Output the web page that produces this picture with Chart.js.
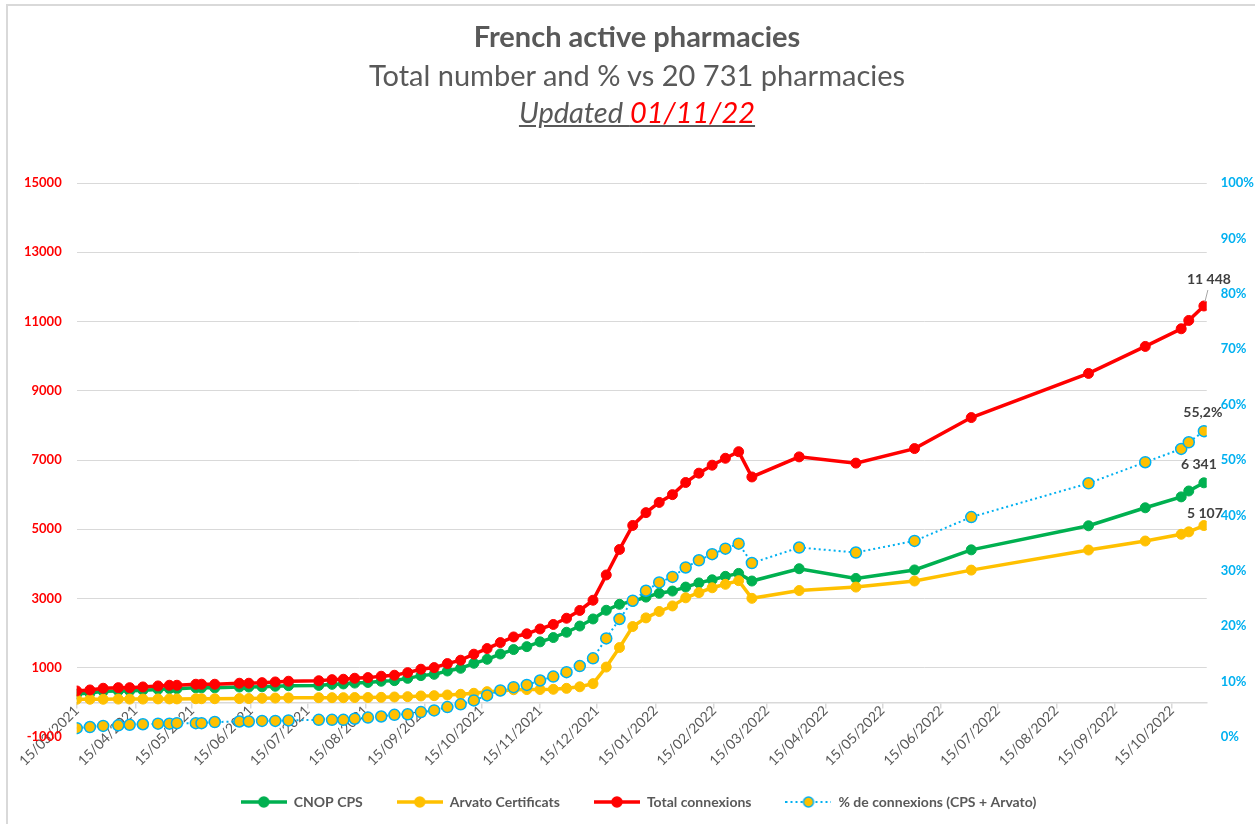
<!DOCTYPE html>
<html>
<head>
<meta charset="utf-8">
<script src="https://cdn.jsdelivr.net/npm/chart.js@4.4.0/dist/chart.umd.min.js"></script>
<style>
  html, body { margin: 0; padding: 0; background: #fff; overflow: hidden; }
  #frame { position: absolute; left: 6px; top: 4px; width: 1300px; height: 900px; border: 2px solid #d9d9d9; }
  #chart { position: absolute; left: 0; top: 0; }
  .t { position: absolute; left: 137px; width: 1000px; text-align: center; color: #595959;
       font-family: Lato, sans-serif; white-space: nowrap; line-height: 1; }
  #t1 { top: 21px; font-size: 29px; font-weight: bold; }
  #t2 { top: 60px; font-size: 29px; }
  #t3 { top: 97px; font-size: 29px; font-style: italic; text-decoration: underline; }
  #t3 span { color: #ff0000; }
</style>
</head>
<body>
<div id="frame"></div>
<canvas id="chart" width="1255" height="824"></canvas>
<div class="t" id="t1">French active pharmacies</div>
<div class="t" id="t2">Total number and % vs 20 731 pharmacies</div>
<div class="t" id="t3">Updated <span>01/11/22</span></div>
<script>
// dates of the readings
var dates = ['2021-03-15','2021-03-22','2021-03-29','2021-04-06','2021-04-12','2021-04-19','2021-04-27',
  '2021-05-03','2021-05-07','2021-05-17','2021-05-20','2021-05-27','2021-06-09','2021-06-14','2021-06-21',
  '2021-06-28','2021-07-05','2021-07-21','2021-07-28','2021-08-03','2021-08-09','2021-08-16','2021-08-23',
  '2021-08-30','2021-09-06','2021-09-13','2021-09-20','2021-09-27','2021-10-04','2021-10-11','2021-10-18',
  '2021-10-25','2021-11-01','2021-11-08','2021-11-15','2021-11-22','2021-11-29','2021-12-06','2021-12-13',
  '2021-12-20','2021-12-27','2022-01-03','2022-01-10','2022-01-17','2022-01-24','2022-01-31','2022-02-07',
  '2022-02-14','2022-02-21','2022-02-28','2022-03-07','2022-04-01','2022-05-01','2022-06-01','2022-07-01',
  '2022-09-01','2022-10-01','2022-10-20','2022-10-24','2022-11-01'];

var cnopCps = [240,269,318,330,330,351,375,395,395,419,419,419,443,443,450,465,481,489,521,532,557,575,610,
  628,694,773,810,906,984,1129,1244,1397,1525,1610,1748,1872,2025,2205,2409,2660,2832,2920,3040,3150,3215,
  3330,3450,3540,3640,3725,3505,3860,3580,3825,4405,5100,5620,5935,6105,6341];

var arvato = [90,90,90,95,95,95,100,100,100,105,105,105,110,110,120,125,130,136,136,136,140,140,145,156,165,
  185,194,214,234,263,310,330,365,370,372,378,405,450,541,1020,1583,2190,2440,2625,2785,3020,3170,3310,3410,
  3515,3005,3230,3330,3505,3820,4400,4660,4855,4925,5107];

var totalConn = [330,359,408,425,425,446,475,495,495,524,524,524,553,553,570,590,611,625,657,668,697,715,755,
  784,859,958,1004,1120,1218,1392,1554,1727,1890,1980,2120,2250,2430,2655,2950,3680,4415,5110,5480,5775,6000,
  6350,6620,6850,7050,7240,6510,7090,6910,7330,8225,9500,10280,10790,11030,11448];

var pctConn = [1.6,1.8,2.0,2.1,2.2,2.3,2.4,2.4,2.5,2.5,2.5,2.7,2.8,2.8,2.9,2.9,3.0,3.1,3.1,3.1,3.3,3.5,3.7,
  4.0,4.1,4.5,4.8,5.4,5.9,6.6,7.5,8.4,9.0,9.4,10.2,10.9,11.7,12.8,14.2,17.8,21.3,24.6,26.4,27.9,28.9,30.6,
  31.9,33.0,34.0,34.9,31.4,34.2,33.3,35.4,39.7,45.8,49.6,52.0,53.2,55.2];

var xTickLabels = ['15/03/2021','15/04/2021','15/05/2021','15/06/2021','15/07/2021','15/08/2021','15/09/2021',
  '15/10/2021','15/11/2021','15/12/2021','15/01/2022','15/02/2022','15/03/2022','15/04/2022','15/05/2022',
  '15/06/2022','15/07/2022','15/08/2022','15/09/2022','15/10/2022'];
var leftTicks = [-1000,1000,3000,5000,7000,9000,11000,13000,15000];
var rightTicks = [0,10,20,30,40,50,60,70,80,90,100];

var GREEN = '#00b050', YELLOW = '#ffc000', RED = '#ff0000', BLUE = '#00b0f0', GREY = '#595959';
var FONT = 'Lato, sans-serif';
var origin = Date.UTC(2021, 2, 15);

function dayNum(y, m, d) { return (Date.UTC(y, m - 1, d) - origin) / 864e5; }
function isoDay(s) { var p = s.split('-'); return dayNum(+p[0], +p[1], +p[2]); }
function frDay(s) { var p = s.split('/'); return dayNum(+p[2], +p[1], +p[0]); }
function pts(arr) { return arr.map(function (v, i) { return {x: isoDay(dates[i]), y: v}; }); }
function spaced(n) { return String(n).replace(/\B(?=(\d{3})+(?!\d))/g, ' '); }

var xTickValues = xTickLabels.map(frDay);

function legendIcon(color, fill, dotted) {
  var c = document.createElement('canvas');
  c.width = 46; c.height = 14;
  var g = c.getContext('2d');
  g.strokeStyle = color;
  g.lineWidth = dotted ? 2 : 3.5;
  if (dotted) g.setLineDash([2, 3]);
  g.beginPath(); g.moveTo(0, 7); g.lineTo(46, 7); g.stroke();
  g.setLineDash([]);
  g.beginPath(); g.arc(23, 7, 5, 0, Math.PI * 2);
  g.fillStyle = fill; g.fill();
  g.lineWidth = 1.5; g.strokeStyle = color; g.stroke();
  return c;
}

var endLabels = {
  id: 'endLabels',
  afterDatasetsDraw: function (chart) {
    var ctx = chart.ctx;
    ctx.save();
    ctx.font = 'bold 14px ' + FONT;
    ctx.fillStyle = '#404040';
    ctx.textAlign = 'center';
    ctx.textBaseline = 'middle';
    chart.data.datasets.forEach(function (ds, i) {
      var meta = chart.getDatasetMeta(i);
      var el = meta.data[meta.data.length - 1];
      var v = ds.data[ds.data.length - 1].y;
      var txt = ds.yAxisID === 'y1' ? String(v).replace('.', ',') + '%' : spaced(v);
      var o = ds.labelOffset;
      if (ds.leader) {
        ctx.strokeStyle = '#a6a6a6';
        ctx.lineWidth = 1;
        ctx.beginPath();
        ctx.moveTo(el.x + 1, el.y - 4);
        ctx.lineTo(el.x + 4, el.y - 16);
        ctx.stroke();
      }
      ctx.fillText(txt, el.x + o[0], el.y + o[1]);
    });
    ctx.restore();
  }
};

var legendIcons = {
  'CNOP CPS': legendIcon(GREEN, GREEN, false),
  'Arvato Certificats': legendIcon(YELLOW, YELLOW, false),
  'Total connexions': legendIcon(RED, RED, false),
  '% de connexions (CPS + Arvato)': legendIcon(BLUE, YELLOW, true)
};

function solid(label, data, color, offset, leader) {
  return {
    label: label, data: pts(data), yAxisID: 'y',
    borderColor: color, backgroundColor: color, borderWidth: 3.5,
    pointRadius: 5, pointBorderWidth: 1, pointBackgroundColor: color, pointBorderColor: color,
    labelOffset: offset, leader: leader
  };
}

new Chart(document.getElementById('chart'), {
  type: 'line',
  data: {
    datasets: [
      {
        label: '% de connexions (CPS + Arvato)', data: pts(pctConn), yAxisID: 'y1',
        borderColor: BLUE, backgroundColor: YELLOW, borderWidth: 2, borderDash: [2, 3],
        pointRadius: 5.5, pointBorderWidth: 1.5, pointBackgroundColor: YELLOW, pointBorderColor: BLUE,
        labelOffset: [-1, -19]
      },
      solid('Total connexions', totalConn, RED, [5, -27], true),
      solid('Arvato Certificats', arvato, YELLOW, [1, -12]),
      solid('CNOP CPS', cnopCps, GREEN, [-5, -18])
    ]
  },
  options: {
    responsive: false,
    animation: false,
    layout: { padding: { left: 9, right: -13, top: 183, bottom: 5 } },
    plugins: {
      tooltip: { enabled: false },
      legend: {
        position: 'bottom',
        reverse: true,
        labels: {
          usePointStyle: true, pointStyleWidth: 46, padding: 34,
          color: GREY, font: { family: FONT, size: 14, weight: 'bold' },
          generateLabels: function (chart) {
            var items = Chart.defaults.plugins.legend.labels.generateLabels(chart);
            items.forEach(function (it) { it.pointStyle = legendIcons[it.text]; });
            return items;
          }
        }
      }
    },
    scales: {
      x: {
        type: 'linear', min: 0, max: 597.5,
        position: { y: 0 },
        afterBuildTicks: function (s) { s.ticks = xTickValues.map(function (v) { return {value: v}; }); },
        ticks: {
          autoSkip: false, minRotation: 45, maxRotation: 45, padding: -5,
          color: GREY, font: { family: FONT, size: 14 },
          callback: function (v) { return xTickLabels[xTickValues.indexOf(v)]; }
        },
        grid: { drawOnChartArea: false, drawTicks: true, tickLength: 5, color: '#d9d9d9', lineWidth: 1.5 },
        border: { display: true, color: '#d9d9d9', width: 1.5 }
      },
      gap: {
        type: 'linear', position: 'bottom', display: true,
        ticks: { display: false }, grid: { display: false }, border: { display: false },
        afterFit: function (s) { s.height = 24; }
      },
      y: {
        type: 'linear', position: 'left', min: -1000, max: 15000,
        afterBuildTicks: function (s) { s.ticks = leftTicks.map(function (v) { return {value: v}; }); },
        ticks: {
          padding: 15, color: RED, font: { family: FONT, size: 13, weight: 'bold' },
          callback: function (v) { return String(v); }
        },
        grid: {
          drawTicks: false, lineWidth: 1,
          color: function (c) { return c.tick && c.tick.value === -1000 ? 'rgba(0,0,0,0)' : '#d9d9d9'; }
        },
        border: { display: false }
      },
      y1: {
        type: 'linear', position: 'right', min: 0, max: 100,
        afterBuildTicks: function (s) { s.ticks = rightTicks.map(function (v) { return {value: v}; }); },
        ticks: {
          padding: 14, color: BLUE, font: { family: FONT, size: 13, weight: 'bold' },
          callback: function (v) { return v + '%'; }
        },
        grid: { drawOnChartArea: false, drawTicks: false },
        border: { display: false }
      }
    }
  },
  plugins: [endLabels]
});
</script>
</body>
</html>
